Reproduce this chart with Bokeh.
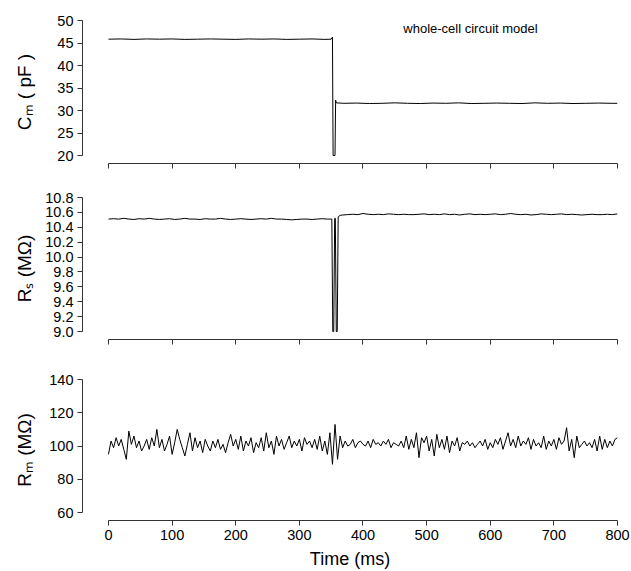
from bokeh.plotting import figure
from bokeh.layouts import column
from bokeh.models import (Range1d, FixedTicker, NumeralTickFormatter, Label,
                          CustomLabelingPolicy)
from bokeh.embed import file_html
from bokeh.resources import INLINE

# ---------------- data ----------------
x_ticks = [0, 100, 200, 300, 400, 500, 600, 700, 800]
cm_ticks = [20, 25, 30, 35, 40, 45, 50]
rs_ticks = [9.0, 9.2, 9.4, 9.6, 9.8, 10.0, 10.2, 10.4, 10.6, 10.8]
rm_ticks = [60, 80, 100, 120, 140]

cm_time = [0, 20, 40, 60, 80, 100, 120, 140, 160, 180, 200, 220, 240, 260, 280, 300, 320, 340,
           350, 352, 353, 356, 357, 358,
           370, 390, 410, 430, 450, 470, 490, 510, 530, 550, 570, 590, 610, 630, 650, 670, 690,
           710, 730, 750, 770, 790, 800]
cm_values = [45.85, 45.9, 45.8, 45.9, 45.85, 45.9, 45.8, 45.85, 45.9, 45.85, 45.8, 45.9, 45.85,
             45.9, 45.8, 45.85, 45.9, 45.8,
             45.85, 46.3, 20.0, 20.0, 32.3, 31.7,
             31.6, 31.65, 31.55, 31.6, 31.7, 31.6, 31.55, 31.65, 31.6, 31.7, 31.55, 31.6, 31.65,
             31.6, 31.55, 31.7, 31.6, 31.65, 31.55, 31.6, 31.65, 31.6, 31.6]

rs_time = list(range(0, 345, 8)) + [348, 351, 352.5, 354, 355.5, 356.5, 358, 359.5, 361, 364] \
    + list(range(368, 801, 8))
rs_values = [10.51, 10.515, 10.51, 10.52, 10.51, 10.505, 10.515, 10.51, 10.52, 10.51,
             10.505, 10.51, 10.515, 10.505, 10.51, 10.52, 10.51, 10.51, 10.505, 10.515,
             10.51, 10.51, 10.52, 10.51, 10.505, 10.51, 10.515, 10.51, 10.505, 10.51,
             10.515, 10.51, 10.52, 10.51, 10.51, 10.505, 10.5, 10.505, 10.51, 10.51,
             10.505, 10.51, 10.515, 10.51,
             10.51, 10.51, 9.0, 9.0, 10.52, 10.52, 9.0, 9.0, 10.54, 10.56,
             10.565, 10.57, 10.575, 10.57, 10.585, 10.575, 10.57, 10.575, 10.57, 10.58,
             10.575, 10.57, 10.575, 10.57, 10.57, 10.575, 10.58, 10.57, 10.575, 10.57,
             10.58, 10.57, 10.575, 10.565, 10.575, 10.58, 10.57, 10.575, 10.57, 10.575,
             10.58, 10.57, 10.575, 10.585, 10.575, 10.57, 10.575, 10.565, 10.57, 10.58,
             10.575, 10.57, 10.575, 10.58, 10.57, 10.575, 10.57, 10.565, 10.57, 10.575,
             10.57, 10.57, 10.575, 10.57, 10.58]

rm_time = list(range(0, 801, 4))
rm_values = [95, 103, 99, 105, 100, 104, 98, 92, 109, 101,
             106, 99, 103, 97, 100, 104, 98, 105, 100, 110,
             99, 104, 97, 101, 106, 95, 102, 110, 104, 99,
             94, 101, 108, 97, 105, 99, 103, 96, 104, 100,
             97, 103, 99, 104, 98, 101, 96, 102, 107, 100,
             104, 98, 106, 97, 103, 100, 105, 96, 102, 99,
             105, 97, 108, 99, 103, 95, 106, 100, 104, 98,
             102, 106, 99, 103, 100, 104, 97, 105, 101, 103,
             99, 104, 98, 106, 97, 103, 95, 108, 89, 113,
             92, 106, 99, 103, 100, 101, 104, 99, 102, 103,
             101, 100, 103, 99, 104, 101, 102, 100, 103, 101,
             104, 99, 102, 101, 100, 103, 99, 106, 98, 104,
             99, 108, 93, 105, 102, 106, 97, 104, 94, 107,
             99, 104, 98, 106, 96, 103, 100, 105, 97, 102,
             101, 103, 100, 102, 99, 101, 103, 100, 104, 98,
             102, 99, 104, 101, 105, 98, 103, 108, 100, 104,
             99, 106, 100, 103, 101, 105, 98, 104, 100, 102,
             99, 106, 98, 103, 100, 104, 98, 105, 101, 103,
             111, 97, 104, 93, 106, 99, 101, 103, 100, 102,
             99, 104, 97, 106, 98, 104, 99, 103, 100, 104,
             105]

title_text = "whole-cell circuit model"
x_label = "Time (ms)"
cm_label = "C\u2098 ( pF )"
rs_label = "R\u209b (M\u03a9)"
rm_label = "R\u2098 (M\u03a9)"

# ---------------- layout ----------------
FONT = "Liberation Sans"
W = 631
LEFT = 82
RIGHT = 14
X0 = -40.86
X1 = 800
FRAME_W = W - LEFT - RIGHT


def px_to_x(px):
    return X0 + (px - LEFT) / FRAME_W * (X1 - X0)


def make_fig(height, top, bottom, y0, y1, ticks, fmt, bounds, show_xlabels, ylabel, ystandoff):
    p = figure(width=W, height=height, x_range=Range1d(X0, X1), y_range=Range1d(y0, y1),
               output_backend="svg", toolbar_location=None,
               min_border_left=LEFT, min_border_right=RIGHT,
               min_border_top=top, min_border_bottom=bottom)
    p.outline_line_color = None
    p.grid.visible = False
    p.background_fill_color = "white"
    p.border_fill_color = "white"
    for ax in (p.xaxis[0], p.yaxis[0]):
        ax.axis_line_color = "#333333"
        ax.axis_line_width = 1
        ax.major_tick_line_color = "#333333"
        ax.major_tick_out = 5
        ax.major_tick_in = 0
        ax.minor_tick_line_color = None
        ax.major_label_text_font = FONT
        ax.major_label_text_font_size = "14.5px"
        ax.major_label_text_color = "black"
    xa = p.xaxis[0]
    xa.ticker = FixedTicker(ticks=x_ticks)
    xa.bounds = (0, 800)
    if show_xlabels:
        xa.major_label_standoff = 4
    else:
        xa.major_label_standoff = 0
        xa.major_label_policy = CustomLabelingPolicy(
            code="for (const i of indices) indices.unset(i)")
    ya = p.yaxis[0]
    ya.ticker = FixedTicker(ticks=ticks)
    ya.bounds = bounds
    ya.formatter = NumeralTickFormatter(format=fmt)
    ya.major_label_standoff = 4
    ya.axis_label = ylabel
    ya.axis_label_text_font = FONT
    ya.axis_label_text_font_size = "19px"
    ya.axis_label_text_font_style = "normal"
    ya.axis_label_text_color = "black"
    ya.axis_label_standoff = ystandoff
    return p


# Panel 1: Cm
H1, T1, B1 = 183, 20, 20
FH1 = H1 - T1 - B1
cm_y0, cm_y1 = 20 - 8 / 4.5, 50
p1 = make_fig(H1, T1, B1, cm_y0, cm_y1, cm_ticks, "0", (20, 50), False, cm_label, 19)
p1.line(cm_time, cm_values, line_color="black", line_width=1)
p1.add_layout(Label(x=px_to_x(470), y=cm_y1 - (28 - T1) / FH1 * (cm_y1 - cm_y0), text=title_text,
                    text_font=FONT, text_font_size="13px", text_align="center",
                    text_baseline="middle", text_color="black"))

# Panel 2: Rs
H2, T2, B2 = 176, 14, 20
rs_y0, rs_y1 = 9.0 - 8 / (134 / 1.8), 10.8
p2 = make_fig(H2, T2, B2, rs_y0, rs_y1, rs_ticks, "0.0", (9.0, 10.8), False, rs_label, 7)
p2.line(rs_time, rs_values, line_color="black", line_width=1)

# Panel 3: Rm
H3, T3, B3 = 212, 20, 50
rm_y0, rm_y1 = 60 - 8 / (134 / 80), 140
p3 = make_fig(H3, T3, B3, rm_y0, rm_y1, rm_ticks, "0", (60, 140), True, rm_label, 11)
p3.line(rm_time, rm_values, line_color="black", line_width=1)
p3.xaxis[0].axis_label = x_label
p3.xaxis[0].axis_label_text_font = FONT
p3.xaxis[0].axis_label_text_font_size = "18px"
p3.xaxis[0].axis_label_text_font_style = "normal"
p3.xaxis[0].axis_label_text_color = "black"
p3.xaxis[0].axis_label_standoff = 6

layout = column(p1, p2, p3, spacing=0)
open("out.html", "w").write(file_html(layout, INLINE))
